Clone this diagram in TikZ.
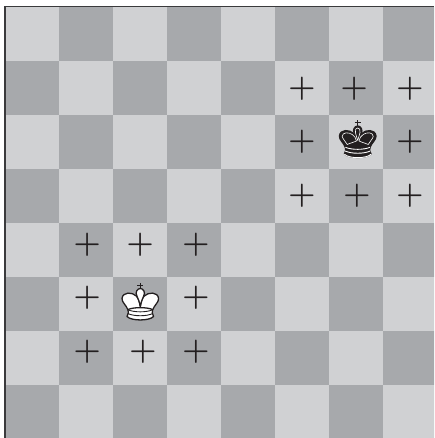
\documentclass[tikz,border=0pt]{standalone}
\definecolor{lightsq}{HTML}{D0D1D3}
\definecolor{darksq}{HTML}{A7A9AC}
\definecolor{edgec}{HTML}{3A3A3C}
\definecolor{inkc}{HTML}{231F20}
\tikzset{
  markplus/.style={inner sep=0pt,text=inkc,font=\fontsize{31}{31}\selectfont\bfseries},
  crownpart/.style={line width=1.3pt,line join=round},
  banddetail/.style={line width=0.9pt},
  innerline/.style={white,line width=0.6pt},
}
% #1 fill, #2 outline, #3 inner lines
\newcommand{\kingshape}[3]{%
  \draw[#2,line width=1pt] (0,-18.7) -- (0,-12.5) (-3,-16) -- (3,-16);
  % crown lobes
  \draw[crownpart,draw=#2,fill=#1]
    (0,5) .. controls (-0.5,1) and (-1.5,-3) .. (-4,-5.5)
    .. controls (-8,-9.5) and (-17.5,-10) .. (-18.3,-3)
    .. controls (-18.5,1) and (-14,3.5) .. (-12.3,8.5)
    -- (12.3,8.5)
    .. controls (14,3.5) and (18.5,1) .. (18.3,-3)
    .. controls (17.5,-10) and (8,-9.5) .. (4,-5.5)
    .. controls (1.5,-3) and (0.5,1) .. (0,5) -- cycle;
  % central bulb
  \draw[crownpart,draw=#2,fill=#1]
    (0,5) .. controls (-1,0) and (-2,-2.5) .. (-3.4,-5.5)
    .. controls (-5.5,-9) and (-3,-13) .. (0,-13)
    .. controls (3,-13) and (5.5,-9) .. (3.4,-5.5)
    .. controls (2,-2.5) and (1,0) .. (0,5) -- cycle;
  % base
  \draw[crownpart,draw=#2,fill=#1]
    (-12.3,8) .. controls (-6,5.5) and (6,5.5) .. (12.3,8)
    -- (12,11.5) .. controls (12.5,13) and (13,14) .. (13.3,15)
    .. controls (9,19.6) and (-9,19.6) .. (-13.3,15)
    .. controls (-13,14) and (-12.5,13) .. (-12,11.5) -- cycle;
  % bands
  \draw[banddetail,#3]
    (-12.3,8.3) .. controls (-6,11) and (6,11) .. (12.3,8.3)
    (-12.6,12) .. controls (-6,15) and (6,15) .. (12.6,12);
}
\newcommand{\kinginner}{%
  \draw[innerline] (-1.2,2) .. controls (-2,-1) and (-3,-3) .. (-5.5,-4.5)
    .. controls (-9,-7) and (-15.5,-7) .. (-15.5,-2.5)
    .. controls (-15,0) and (-12,2.5) .. (-10.5,5.5)
    .. controls (-7,3.8) and (-4,3.5) .. (-1.2,2);
  \draw[innerline] (1.2,2) .. controls (2,-1) and (3,-3) .. (5.5,-4.5)
    .. controls (9,-7) and (15.5,-7) .. (15.5,-2.5)
    .. controls (15,0) and (12,2.5) .. (10.5,5.5)
    .. controls (7,3.8) and (4,3.5) .. (1.2,2);
  \draw[innerline] (0,1.5) .. controls (-0.8,-2) and (-2,-4) .. (-2.3,-6.5)
    .. controls (-3,-9.5) and (-1.5,-11) .. (0,-11)
    .. controls (1.5,-11) and (3,-9.5) .. (2.3,-6.5)
    .. controls (2,-4) and (0.8,-2) .. (0,1.5);
  \draw[white,line width=0.9pt] (-13.3,15.2) .. controls (-9,19.8) and (9,19.8) .. (13.3,15.2);
}
\begin{document}
\begin{tikzpicture}[x=1pt,y=-1pt]
  \useasboundingbox (0,0) rectangle (434,438);
  \fill[white] (0,0) rectangle (434,438);
  \begin{scope}
    \clip (0,0) rectangle (434,438);
    \foreach \c in {0,...,7}{
      \foreach \r in {0,...,7}{
        \pgfmathtruncatemacro{\parity}{mod(\c+\r,2)}
        \ifnum\parity=0 \def\sq{lightsq}\else\def\sq{darksq}\fi
        \fill[\sq] ({5.3+54*\c},{6.6+54*\r}) rectangle ++(54.3,54.3);
      }
    }
  \end{scope}
  \draw[edgec,line width=1.6pt] (5,440) -- (5,6.5) -- (434,6.5);
  \foreach \n/\x/\y in {a/302/89,b/354.3/89,c/410/89,d/302/141.3,e/410/141.3,f/302/195.7,g/357/195.7,h/410/195.7,
                        i/87.3/245,j/140.3/245,k/196/245,l/87.3/297.3,m/196/297.3,n/87.3/351.7,o/143/351.7,p/196/351.7}{
    \node[markplus] (plus\n) at (\x,\y) {+};
  }
  \begin{scope}[shift={(357.7,139)}]\kingshape{inkc}{inkc}{white}\kinginner\end{scope}
  \begin{scope}[shift={(140.3,301.5)}]\kingshape{white}{inkc}{inkc}\end{scope}
\end{tikzpicture}
\end{document}
